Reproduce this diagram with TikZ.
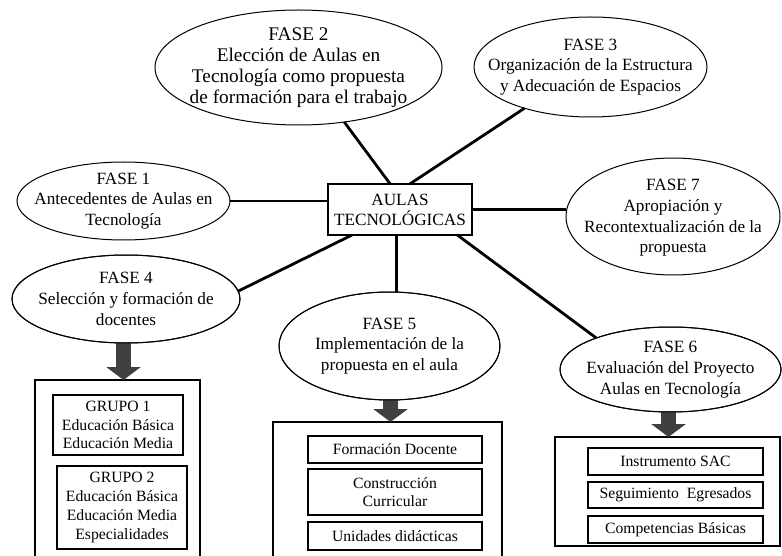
\documentclass[tikz,border=0pt]{standalone}
\usepackage{fontspec}
\setmainfont{Liberation Serif}
\usetikzlibrary{shapes.geometric,arrows.meta}

\tikzset{
  phase/.style={ellipse, draw=black, line width=1pt, fill=white, inner sep=0pt, outer sep=0pt},
  phasetext/.style={align=center, inner sep=0pt, font=\fontsize{17.2}{20.7}\selectfont},
  bigtext/.style={align=center, inner sep=0pt, font=\fontsize{19.3}{21}\selectfont},
  hub/.style={rectangle, draw=black, line width=1.2pt, fill=white, align=center, inner sep=0pt, outer sep=0pt,
    minimum width=144pt, minimum height=51pt, font=\fontsize{17.2}{20}\selectfont},
  link/.style={line width=2.8pt},
  outerbox/.style={rectangle, draw=black, line width=1.2pt, inner sep=0pt, outer sep=0pt},
  itembox/.style={rectangle, draw=black, line width=1.8pt, align=center, inner sep=0pt, outer sep=0pt,
    font=\fontsize{15.7}{18.7}\selectfont},
  bigarrow/.style={draw=black!75, line width=15pt, -{Triangle[length=13pt 0, width=34pt 0]}},
}

\begin{document}
\begin{tikzpicture}[x=1pt, y=-1pt]
\useasboundingbox (0,0) rectangle (782,556);
\clip (0,0) rectangle (782,556);

% hub
\node[hub] (hub) at (400,209.5) {AULAS\\TECNOLÓGICAS};

% phase ellipses
\node[phase, minimum width=287pt, minimum height=115pt] (f2) at (298.5,67.5) {};
\node[phase, minimum width=233pt, minimum height=100pt] (f3) at (590.5,67) {};
\node[phase, minimum width=213pt, minimum height=78pt] (f1) at (123.5,201) {};
\node[phase, minimum width=214pt, minimum height=117pt] (f7) at (673,216.5) {};
\node[phase, minimum width=228pt, minimum height=88pt] (f4) at (126,299) {};
\node[phase, minimum width=221pt, minimum height=108pt] (f5) at (389.5,346) {};
\node[phase, minimum width=221pt, minimum height=85pt] (f6) at (670.5,369.5) {};

% phase texts
\node[bigtext] (f2t) at (f2) {FASE 2\\Elección de Aulas en\\Tecnología como propuesta\\de formación para el trabajo};
\node[phasetext] (f3t) at (f3) {FASE 3\\Organización de la Estructura\\y Adecuación de Espacios};
\node[phasetext] (f1t) at (f1) {FASE 1\\Antecedentes de Aulas en\\Tecnología};
\node[phasetext] (f7t) at (673,218) {FASE 7\\Apropiación y\\Recontextualización de la\\propuesta};
\node[phasetext] (f4t) at (f4) {FASE 4\\Selección y formación de\\docentes};
\node[phasetext] (f5t) at (f5) {FASE 5\\Implementación de la\\propuesta en el aula};
\node[phasetext] (f6t) at (f6) {FASE 6\\Evaluación del Proyecto\\Aulas en Tecnología};

% connectors from the hub
\draw[link] (f2.-50) -- (hub.111);
\draw[link] (f3.212) -- (hub.69);
\draw[link] (f1.east) -- (f1.east -| hub.west);
\draw[link] (hub.east) -- (hub.east -| f7.west);
\draw[link] (f4.4) -- (hub.208);
\draw[link] (hub.263) -- (hub.263 |- f5.north);
\draw[link] (hub.336) -- (f6.157);

% outer group boxes
\node[outerbox, minimum width=165pt, minimum height=190pt, anchor=north west] (g4) at (35,380) {};
\node[outerbox, minimum width=229pt, minimum height=150pt, anchor=north west] (g5) at (273,422) {};
\node[outerbox, minimum width=225pt, minimum height=109pt, anchor=north west] (g6) at (555,437) {};

% block arrows
\draw[bigarrow] (f4.south) ++(-2.5,0) coordinate (a4) -- (a4 |- g4.north);
\draw[bigarrow] (f5.south) ++(1,0) coordinate (a5) -- (a5 |- g5.north);
\draw[bigarrow] (f6.south) ++(-2,0) coordinate (a6) -- (a6 |- g6.north);
\node[phase, minimum width=228pt, minimum height=88pt, fill=none] (f4b) at (f4) {};
\node[phase, minimum width=221pt, minimum height=108pt, fill=none] (f5b) at (f5) {};
\node[phase, minimum width=221pt, minimum height=85pt, fill=none] (f6b) at (f6) {};

% item boxes, group 4
\node[itembox, minimum width=130pt, minimum height=60pt] (b41) at (118,425) {GRUPO 1\\Educación Básica\\Educación Media};
\node[itembox, minimum width=130pt, minimum height=83pt] (b42) at (122,507.5) {GRUPO 2\\Educación Básica\\Educación Media\\Especialidades};

% item boxes, group 5
\node[itembox, minimum width=174pt, minimum height=27pt] (b51) at (395,449.5) {Formación Docente};
\node[itembox, minimum width=174pt, minimum height=46pt] (b52) at (395,492) {Construcción\\Curricular};
\node[itembox, minimum width=174pt, minimum height=28pt] (b53) at (395,536) {Unidades didácticas};

% item boxes, group 6
\node[itembox, minimum width=175pt, minimum height=27pt] (b61) at (675.5,461.5) {Instrumento SAC};
\node[itembox, minimum width=175pt, minimum height=26pt] (b62) at (675.5,495) {Seguimiento~ Egresados};
\node[itembox, minimum width=175pt, minimum height=27pt] (b63) at (675.5,529.5) {Competencias Básicas};
\end{tikzpicture}
\end{document}
